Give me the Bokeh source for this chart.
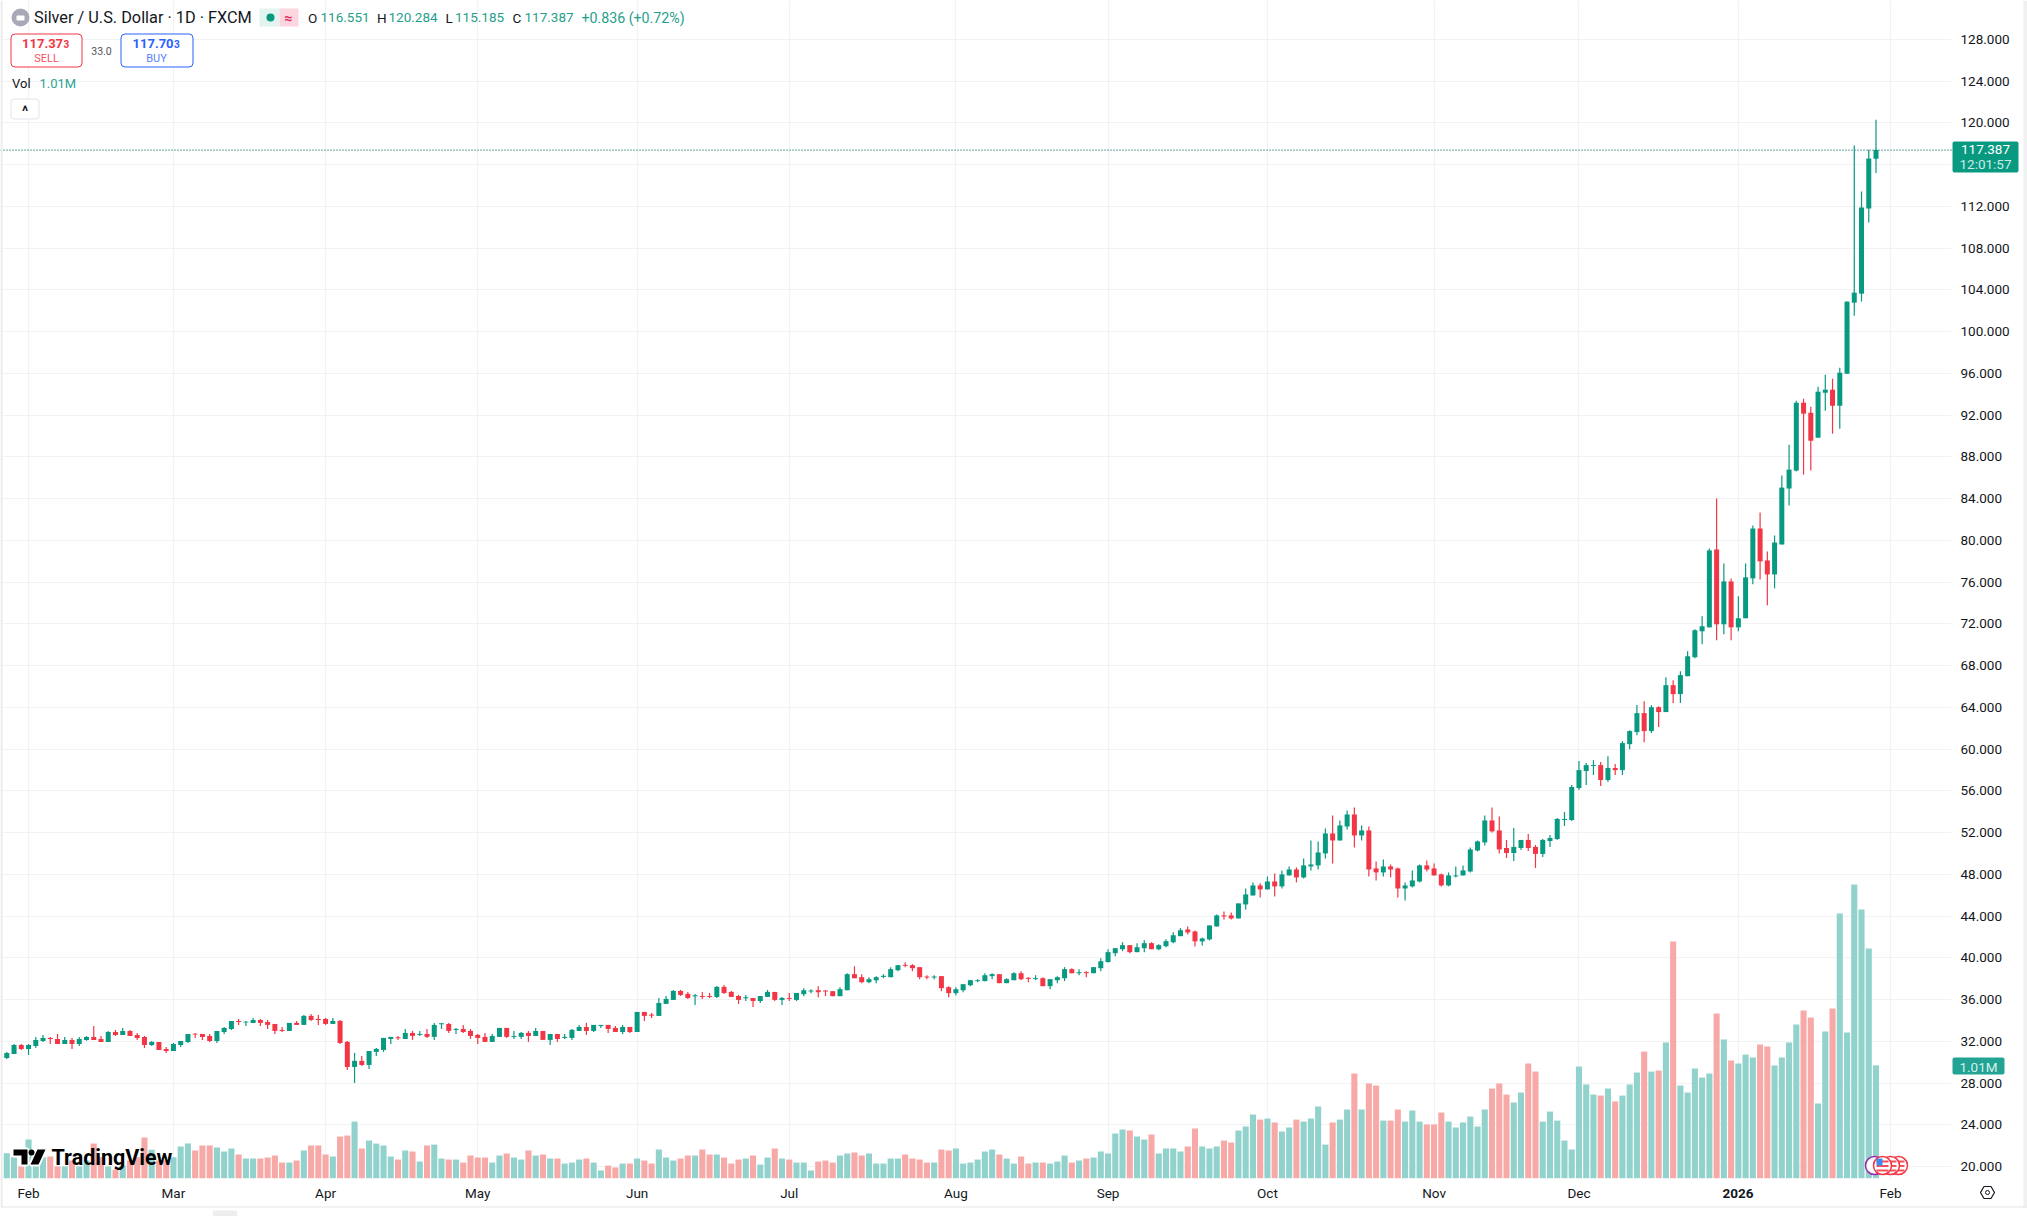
# Silver / U.S. Dollar daily candles, FXCM
from bokeh.embed import file_html
from bokeh.models import (BoxAnnotation, ColumnDataSource, FixedTicker, Grid, Label, LinearAxis,
                          PolyAnnotation, Range1d)
from bokeh.plotting import figure
from bokeh.resources import INLINE

## ----- DATA ----- ##
opens = [
    30.40, 30.79, 31.65, 31.27, 31.55, 32.03, 32.32, 32.22, 31.74, 32.13, 31.74, 32.13, 32.42, 32.22, 31.94, 32.89,
    32.61, 32.99, 32.61, 32.42, 31.65, 31.94, 31.27, 31.07, 31.65, 31.94, 32.73, 32.70, 32.51, 32.03, 32.89, 33.18,
    33.95, 33.79, 33.76, 34.04, 33.85, 33.66, 33.09, 32.99, 33.76, 33.57, 34.43, 34.14, 34.14, 33.66, 33.95, 31.94,
    29.54, 30.12, 29.73, 30.98, 31.17, 32.22, 32.38, 32.22, 32.80, 32.61, 32.70, 32.42, 33.63, 33.66, 33.09, 33.18,
    32.99, 32.61, 32.42, 31.94, 32.42, 33.28, 32.42, 32.42, 32.80, 32.51, 32.99, 32.13, 32.70, 32.32, 32.32, 32.99,
    33.37, 32.99, 33.47, 33.57, 33.28, 32.89, 33.37, 32.89, 34.81, 34.56, 34.43, 35.58, 35.96, 36.82, 36.54, 36.31,
    36.34, 36.34, 36.25, 37.21, 36.73, 36.34, 36.12, 36.15, 35.86, 36.25, 36.73, 35.96, 36.15, 35.96, 36.51, 36.77,
    36.89, 36.86, 36.80, 36.32, 36.89, 38.43, 38.14, 37.66, 37.85, 38.17, 38.14, 38.81, 39.32, 39.29, 39.10, 38.20,
    38.11, 38.24, 37.18, 36.61, 36.89, 37.37, 37.76, 37.76, 38.24, 38.43, 37.57, 37.85, 38.52, 38.08, 37.95, 38.04,
    37.28, 37.85, 38.04, 38.91, 38.52, 38.62, 38.52, 39.00, 39.58, 40.44, 40.82, 41.21, 40.54, 40.92, 41.40, 40.82,
    41.11, 41.49, 42.07, 42.71, 42.52, 41.57, 41.76, 43.00, 44.06, 44.06, 43.77, 45.11, 45.97, 46.93, 46.55, 47.31,
    46.84, 47.89, 48.46, 47.70, 48.75, 48.85, 50.00, 51.91, 51.24, 52.58, 53.73, 51.72, 52.20, 48.56, 48.18, 48.75,
    48.56, 46.64, 46.84, 47.31, 48.85, 48.56, 47.99, 46.93, 47.80, 47.89, 48.27, 50.28, 51.05, 53.16, 52.20, 50.52,
    50.04, 50.52, 51.29, 50.62, 49.95, 51.19, 51.38, 53.20, 53.20, 56.26, 57.89, 58.37, 58.46, 57.03, 58.18, 57.98,
    60.47, 61.62, 63.44, 61.72, 64.01, 63.54, 66.12, 65.26, 66.98, 68.80, 71.28, 71.66, 79.12, 71.95, 76.06, 71.66,
    72.53, 76.35, 81.13, 78.07, 76.73, 79.60, 84.96, 86.68, 93.18, 92.22, 89.83, 94.14, 94.43, 92.89, 95.96, 102.77,
    103.63, 111.78, 116.551,
]
highs = [
    30.98, 31.74, 31.74, 31.74, 32.42, 32.61, 32.42, 32.70, 32.42, 32.32, 32.42, 32.51, 33.47, 32.51, 32.99, 33.09,
    33.28, 33.09, 32.80, 32.51, 32.03, 31.94, 31.46, 31.84, 32.03, 32.70, 32.80, 32.70, 32.70, 32.99, 33.37, 33.95,
    34.14, 33.95, 34.24, 34.14, 34.04, 33.66, 33.37, 33.76, 33.95, 34.52, 34.62, 34.52, 34.24, 34.24, 34.04, 32.03,
    30.88, 30.59, 31.07, 31.36, 32.32, 32.42, 32.51, 33.18, 32.99, 32.99, 33.18, 33.76, 33.76, 33.76, 33.28, 33.57,
    33.18, 32.70, 32.80, 32.70, 33.28, 33.28, 32.99, 32.89, 32.99, 33.28, 32.99, 32.70, 32.70, 32.70, 33.18, 33.57,
    33.76, 33.57, 33.57, 33.57, 33.47, 33.57, 33.37, 34.81, 34.81, 34.71, 36.15, 36.34, 36.92, 36.92, 36.73, 36.54,
    36.73, 36.63, 37.30, 37.40, 36.82, 36.44, 36.44, 36.15, 36.34, 36.92, 36.73, 36.25, 36.63, 36.63, 37.09, 36.99,
    37.28, 36.89, 36.80, 37.18, 38.52, 39.19, 38.43, 38.14, 38.24, 38.43, 39.10, 39.29, 39.58, 39.39, 39.10, 38.33,
    38.33, 38.24, 37.28, 37.18, 37.47, 37.85, 37.95, 38.52, 38.52, 38.43, 38.04, 38.62, 38.71, 38.14, 38.33, 38.14,
    37.95, 38.24, 39.10, 39.00, 38.91, 38.71, 39.10, 39.96, 40.82, 40.92, 41.49, 41.21, 41.40, 41.69, 41.49, 41.30,
    41.78, 42.45, 42.84, 43.00, 42.62, 41.95, 43.10, 44.15, 44.44, 44.34, 45.21, 46.64, 47.22, 47.13, 47.79, 48.08,
    48.37, 48.75, 48.66, 49.52, 51.24, 51.15, 52.39, 53.64, 53.16, 54.12, 54.40, 52.68, 52.58, 49.23, 49.42, 48.94,
    48.66, 47.22, 48.37, 48.94, 49.33, 49.04, 48.08, 48.18, 48.75, 48.85, 50.57, 51.24, 53.64, 54.40, 53.54, 51.29,
    52.43, 51.29, 51.86, 50.81, 51.38, 51.76, 53.39, 53.97, 56.55, 58.85, 58.65, 58.94, 58.75, 59.32, 58.56, 60.76,
    61.81, 64.21, 64.59, 64.21, 64.11, 66.88, 66.60, 67.46, 69.37, 71.47, 72.72, 79.22, 84.00, 77.78, 76.35, 74.63,
    77.78, 81.42, 82.66, 78.93, 80.46, 86.20, 89.16, 93.37, 93.57, 92.79, 94.72, 95.87, 95.48, 96.54, 102.87, 117.82,
    113.41, 117.41, 120.284,
]
lows = [
    30.31, 30.79, 31.17, 30.69, 31.36, 31.94, 31.74, 31.74, 31.74, 31.27, 31.55, 32.05, 32.13, 31.94, 31.94, 32.51,
    32.61, 32.51, 32.13, 31.36, 31.55, 31.17, 30.88, 31.07, 31.46, 31.84, 32.32, 32.13, 31.94, 31.84, 32.70, 33.09,
    33.57, 33.47, 33.76, 33.47, 33.18, 32.70, 32.89, 32.99, 33.57, 33.57, 33.95, 33.57, 33.57, 33.66, 31.74, 29.25,
    28.01, 29.64, 29.35, 30.59, 30.98, 31.74, 32.13, 32.22, 32.13, 32.51, 32.32, 32.13, 33.18, 32.80, 32.70, 32.80,
    32.22, 31.74, 31.94, 31.94, 32.42, 32.32, 32.22, 32.22, 31.94, 32.51, 32.13, 31.65, 31.94, 32.22, 32.13, 32.99,
    32.61, 32.89, 33.28, 32.80, 32.89, 32.70, 32.80, 32.89, 33.95, 34.24, 34.43, 35.58, 35.96, 36.34, 36.06, 35.48,
    36.06, 36.15, 36.15, 36.54, 36.25, 35.58, 35.86, 35.29, 35.67, 36.25, 35.86, 35.48, 35.86, 35.86, 36.32, 36.61,
    36.22, 36.32, 36.32, 36.32, 36.89, 38.04, 37.57, 37.57, 37.57, 38.04, 38.14, 38.71, 39.10, 38.71, 37.95, 37.95,
    37.95, 36.80, 36.22, 36.42, 36.70, 37.28, 37.66, 37.76, 37.95, 37.57, 37.57, 37.85, 37.85, 37.66, 37.85, 37.28,
    36.99, 37.57, 37.76, 38.52, 38.33, 38.14, 38.52, 38.71, 39.58, 40.15, 40.63, 40.44, 40.54, 40.54, 40.82, 40.73,
    41.01, 41.40, 42.07, 42.24, 41.09, 41.18, 41.66, 43.00, 43.67, 43.67, 43.77, 44.63, 45.97, 45.78, 46.55, 45.88,
    46.64, 47.89, 47.22, 47.60, 48.37, 48.46, 49.52, 49.04, 51.24, 52.30, 50.57, 51.24, 47.79, 47.41, 47.79, 47.70,
    45.78, 45.49, 46.74, 47.22, 48.27, 47.89, 46.84, 46.84, 47.70, 47.89, 48.18, 50.19, 50.76, 52.01, 50.00, 49.56,
    49.28, 50.33, 50.23, 48.61, 49.66, 50.62, 51.29, 52.63, 53.10, 56.07, 56.55, 57.51, 56.45, 56.84, 57.51, 57.51,
    59.99, 61.33, 60.66, 61.53, 62.10, 63.54, 64.40, 64.40, 66.98, 68.70, 70.04, 71.66, 70.42, 71.00, 70.42, 71.28,
    72.53, 75.78, 76.25, 73.77, 75.39, 79.60, 83.33, 86.58, 86.29, 86.68, 89.83, 92.42, 90.21, 90.69, 95.96, 101.52,
    102.87, 110.44, 115.185,
]
closes = [
    30.88, 31.65, 31.27, 31.65, 32.13, 32.32, 32.22, 31.74, 32.13, 31.74, 32.22, 32.42, 32.13, 31.94, 32.89, 32.61,
    32.99, 32.51, 32.32, 31.65, 31.94, 31.17, 31.07, 31.74, 32.03, 32.70, 32.64, 32.42, 32.03, 32.99, 33.28, 33.95,
    33.85, 33.88, 34.04, 33.76, 33.57, 32.99, 32.99, 33.76, 33.57, 34.43, 34.04, 34.04, 33.66, 33.95, 31.84, 29.54,
    30.12, 29.73, 31.07, 31.27, 32.32, 32.42, 32.29, 32.80, 32.51, 32.70, 32.42, 33.57, 33.72, 32.99, 33.18, 32.89,
    32.51, 32.32, 31.94, 32.51, 33.28, 32.42, 32.51, 32.80, 32.51, 32.99, 32.13, 32.70, 32.22, 32.42, 33.09, 33.37,
    32.99, 33.57, 33.57, 33.18, 32.89, 33.37, 32.89, 34.81, 34.43, 34.46, 35.67, 36.06, 36.82, 36.44, 36.15, 36.41,
    36.25, 36.25, 37.21, 36.63, 36.25, 35.96, 36.22, 35.86, 36.34, 36.73, 35.96, 36.15, 36.06, 36.63, 36.89, 36.86,
    36.70, 36.77, 36.32, 36.99, 38.43, 38.04, 37.66, 37.95, 38.14, 38.27, 38.91, 39.29, 39.23, 39.00, 38.14, 38.11,
    38.20, 37.09, 36.61, 36.99, 37.47, 37.85, 37.85, 38.33, 38.43, 37.57, 37.95, 38.52, 37.95, 37.98, 38.04, 37.28,
    37.95, 38.14, 38.91, 38.52, 38.62, 38.52, 39.10, 39.67, 40.54, 40.92, 41.21, 40.54, 41.01, 41.40, 40.82, 41.21,
    41.59, 42.16, 42.64, 42.43, 41.57, 41.85, 43.10, 44.06, 43.96, 43.77, 45.21, 46.07, 46.93, 46.55, 47.31, 46.84,
    47.99, 48.46, 47.70, 48.85, 48.94, 50.09, 51.91, 51.24, 52.68, 53.73, 51.72, 52.20, 48.46, 48.18, 48.75, 48.46,
    46.64, 46.93, 47.41, 48.85, 48.46, 47.89, 46.93, 47.89, 47.89, 48.37, 50.38, 51.15, 53.16, 52.11, 50.38, 50.04,
    50.62, 51.29, 50.52, 49.95, 51.29, 51.48, 53.30, 53.30, 56.36, 57.98, 58.46, 58.46, 57.03, 58.18, 57.98, 60.57,
    61.72, 63.44, 61.72, 64.01, 63.54, 66.12, 65.26, 67.08, 68.89, 71.38, 71.76, 79.03, 71.95, 76.06, 71.66, 72.53,
    76.45, 81.13, 77.98, 76.73, 79.79, 85.05, 86.77, 93.18, 92.13, 89.54, 94.24, 94.43, 92.89, 96.06, 102.87, 103.73,
    111.88, 116.58, 117.387,
]
# FXCM volume, millions
volumes = [
    .224, .188, .104, .346, .218, .188, .194, .104, .104, .158, .104, .158, .310, .188, .104, .075,
    .113, .158, .188, .364, .254, .158, .158, .188, .284, .310, .248, .293, .293, .275, .239, .266,
    .212, .176, .176, .176, .185, .203, .140, .140, .158, .248, .293, .293, .212, .194, .373, .382,
    .507, .266, .337, .310, .293, .194, .167, .248, .239, .149, .293, .301, .176, .167, .167, .140,
    .203, .185, .185, .140, .203, .221, .185, .167, .248, .203, .212, .176, .176, .131, .140, .167,
    .176, .140, .069, .113, .096, .131, .131, .176, .158, .131, .257, .185, .158, .176, .203, .203,
    .257, .212, .212, .185, .131, .167, .176, .203, .122, .185, .266, .176, .167, .140, .140, .069,
    .149, .158, .140, .203, .221, .230, .203, .221, .131, .131, .176, .176, .212, .176, .167, .140,
    .140, .257, .248, .266, .131, .140, .167, .239, .257, .212, .176, .131, .194, .131, .140, .140,
    .131, .149, .203, .140, .158, .176, .185, .239, .221, .400, .436, .427, .373, .346, .391, .221,
    .266, .266, .239, .284, .445, .284, .266, .284, .337, .319, .427, .463, .570, .525, .534, .499,
    .418, .454, .525, .507, .534, .642, .301, .499, .525, .615, .937, .615, .848, .830, .516, .516,
    .615, .507, .606, .507, .481, .481, .588, .507, .454, .499, .552, .463, .615, .803, .848, .749,
    .678, .767, 1.027, .955, .507, .597, .516, .337, .257, 1.000, .839, .749, .740, .803, .687, .740,
    .839, .946, 1.134, .955, .964, 1.215, 2.119, .830, .767, .982, .901, .937, 1.475, 1.242, 1.054, 1.027,
    1.107, 1.081, 1.197, 1.179, 1.009, 1.081, 1.215, 1.376, 1.501, 1.439, .669, 1.313, 1.519, 2.370, 1.304, 2.630,
    2.406, 2.057, 1.010,
]
price_ticks = [20, 24, 28, 32, 36, 40, 44, 48, 52, 56, 60, 64, 68, 72, 76, 80, 84, 88, 92, 96, 100, 104, 108, 112,
               116, 120, 124, 128]
month_bars = [3, 23, 44, 65, 87, 108, 131, 152, 174, 197, 217, 239, 260]
month_names = ["Feb", "Mar", "Apr", "May", "Jun", "Jul", "Aug", "Sep", "Oct", "Nov", "Dec", "", "Feb"]
last_price = 117.387

## ----- CONSTANTS ----- ##
W, H = 2027, 1216
X_LEFT, X_RIGHT = -0.87, 278.91  # the frame spans the whole canvas, bars run on the same scale
PRICE_LOW, PRICE_HIGH = 15.21, 131.72
X_PANE, Y_PANE = 268.42, 18.88  # right edge and foot of the price pane
UP, DOWN = "#089981", "#F23645"
UP_VOL, DOWN_VOL = "#92D2CC", "#F7A9A7"
UP_TEXT = "#1fa08b"
INK = "#131722"
FONT = "Roboto"

## ----- CHART ----- ##
p = figure(width=W, height=H, output_backend="svg", toolbar_location=None, tools="",
           x_axis_type=None, y_axis_type=None,
           x_range=Range1d(X_LEFT, X_RIGHT), y_range=Range1d(PRICE_LOW, PRICE_HIGH),
           min_border_left=0, min_border_top=0, min_border_right=0, min_border_bottom=0,
           background_fill_color="white", border_fill_color="white", outline_line_color=None)
p.extra_y_ranges = {"vol": Range1d(-0.343, 10.546)}

price_axis = LinearAxis(ticker=FixedTicker(ticks=price_ticks), fixed_location=X_PANE,
                        major_label_overrides={t: f"{t}.000" for t in price_ticks})
time_axis = LinearAxis(ticker=FixedTicker(ticks=month_bars), fixed_location=Y_PANE,
                       major_label_overrides=dict(zip(month_bars, month_names)))

# grid first, so the white masks can stop it at the edge of the pane
for dim, ax in ((0, time_axis), (1, price_axis)):
    p.add_layout(Grid(dimension=dim, axis=ax, grid_line_color="#f1f2f4", grid_line_width=1.2))


def canvas_box(left, right, top, bottom, fill=None, line=None, radius=0, line_width=1, level="annotation"):
    p.add_layout(BoxAnnotation(left=left, right=right, top=top, bottom=bottom, left_units="canvas",
                               right_units="canvas", top_units="canvas", bottom_units="canvas",
                               fill_color=fill, fill_alpha=1 if fill else 0, line_color=line, line_alpha=1,
                               line_width=line_width, border_radius=radius, level=level))


canvas_box(1951, 2027, 0, 1216, fill="white", level="underlay")
canvas_box(0, 2027, 1178, 1216, fill="white", level="underlay")

bars = list(range(len(opens)))
rising = [c >= o for o, c in zip(opens, closes)]
source = ColumnDataSource(data=dict(
    x=bars, high=highs, low=lows, volume=volumes,
    top=[max(o, c) for o, c in zip(opens, closes)],
    bottom=[min(o, c) for o, c in zip(opens, closes)],
    colour=[UP if r else DOWN for r in rising],
    vol_colour=[UP_VOL if r else DOWN_VOL for r in rising],
))

p.vbar(x="x", width=0.84, top="volume", bottom=0, fill_color="vol_colour", line_color=None, y_range_name="vol",
       source=source)
p.segment(x0="x", y0="high", x1="x", y1="low", line_color="colour", line_width=1.2, source=source)
p.vbar(x="x", width=0.69, top="top", bottom="bottom", fill_color="colour", line_color=None, source=source)
p.segment(x0=[X_LEFT], y0=[last_price], x1=[X_PANE], y1=[last_price], line_color="#067a67", line_width=1.3,
          line_dash="1 2")

# fixed_location keeps the axes from taking room away from the frame
for ax, side in ((price_axis, "right"), (time_axis, "below")):
    ax.axis_line_color = None
    ax.major_tick_line_color = None
    ax.minor_tick_line_color = None
    ax.major_label_text_font = FONT
    ax.major_label_text_font_size = "13.5px"
    ax.major_label_text_color = INK
    p.add_layout(ax, side)
price_axis.major_label_standoff = 3
time_axis.major_label_standoff = 1


def text(x, y, s, size=13, colour=INK, align="left", weight="normal", **kw):
    p.add_layout(Label(x=x, y=y, x_units="canvas", y_units="canvas", text=s, text_font=FONT,
                       text_font_size=f"{size}px", text_color=colour, text_align=align,
                       text_baseline="middle", text_font_style=weight, **kw))


def poly(xs, ys, fill=None, line=None, line_width=1):
    p.add_layout(PolyAnnotation(xs=xs, ys=ys, xs_units="canvas", ys_units="canvas", line_alpha=1,
                                fill_color=fill, fill_alpha=1 if fill else 0, line_color=line, line_width=line_width))


# page edges
canvas_box(0, 2, 0, 1207, fill="#ebebeb")
canvas_box(2023, 2027, 0, 1207, fill="#f0f0f0")
canvas_box(0, 2027, 1206, 1207, fill="#e6e6e6")
canvas_box(212, 237, 1210, 1216, fill="#eeeeee", radius=5)

# header
canvas_box(11, 29, 8, 26, fill="#a9a8b6", radius=9)
canvas_box(16, 24, 15, 20, fill="white", radius=1)
text(33.5, 17, "Silver / U.S. Dollar · 1D · FXCM", size=16.3)
canvas_box(259, 279, 8, 26, fill="#e3f3f0")
canvas_box(279, 298, 8, 26, fill="#fbd6df")
canvas_box(266, 274, 13, 21, fill=UP, radius=4)
text(288, 17, "≈", size=14, colour="#e0245e", align="center", weight="bold")
text(307.5, 17, "O", size=13.5)
text(320, 17, "116.551", size=13.5, colour=UP_TEXT)
text(376.5, 17, "H", size=13.5)
text(388, 17, "120.284", size=13.5, colour=UP_TEXT)
text(445, 17, "L", size=13.5)
text(454.5, 17, "115.185", size=13.5, colour=UP_TEXT)
text(512, 17, "C", size=13.5)
text(524, 17, "117.387", size=13.5, colour=UP_TEXT)
text(581, 17, "+0.836 (+0.72%)", size=14.2, colour=UP_TEXT)

# sell / buy
canvas_box(10.5, 81.5, 33.5, 66.5, fill="white", line=DOWN, radius=4)
text(21.5, 43, "117.37", size=13, colour=DOWN, weight="bold")
text(63, 43.5, "3", size=10, colour=DOWN, weight="bold")
text(46, 57.5, "SELL", size=11, colour="#f7525f", align="center")
text(101, 50, "33.0", size=10.5, colour="#50535e", align="center")
canvas_box(120.5, 192.5, 33.5, 66.5, fill="white", line="#2962ff", radius=4)
text(132, 43, "117.70", size=13, colour="#2962ff", weight="bold")
text(173.5, 43.5, "3", size=10, colour="#2962ff", weight="bold")
text(156, 57.5, "BUY", size=11, colour="#5b7fff", align="center")

# volume legend
text(11.5, 83, "Vol", size=13)
text(39, 83, "1.01M", size=13, colour="#2ba593")
canvas_box(10.5, 38.5, 98.5, 118.5, fill="white", line="#e0e3eb", radius=3)
text(24.5, 110, "^", size=14, weight="bold", align="center")

# price tags
canvas_box(1952, 2018, 141, 172, fill=UP, radius=2)
text(1985, 149, "117.387", size=13.5, colour="white", align="center")
text(1985, 163, "12:01:57", size=13.5, colour="#cdebe6", align="center")
canvas_box(1952, 2004, 1057, 1074, fill="#22a394", radius=2)
text(1978, 1066, "1.01M", size=13.5, colour="#d5f0ec", align="center")

# 2026 is the one bold time label
text(1737.5, 1193, "2026", size=13.5, align="center", weight="bold")

# settings gear
poly([1980, 1983.5, 1990.5, 1994, 1990.5, 1983.5], [1192, 1186, 1186, 1192, 1198, 1198], line=INK, line_width=1.2)
canvas_box(1985, 1989, 1190, 1194, line=INK, radius=2)

# logo
for lw, colour in ((4, "white"), (0, "black")):
    line = colour if lw else None
    poly([13, 27, 27, 21, 21, 13], [1149, 1149, 1164, 1164, 1155, 1155], fill=colour, line=line, line_width=lw or 1)
    poly([37, 45, 38, 30], [1149, 1149, 1164, 1164], fill=colour, line=line, line_width=lw or 1)
canvas_box(28, 34, 1149, 1155, fill="black", radius=3)
text(51, 1157, "TradingView", size=21.5, colour="black", weight="bold")

# event flags
canvas_box(1865, 1883, 1156, 1174, fill="white", line="#9c27b0", radius=9, line_width=1.5)
for cx in (1898, 1890, 1882):
    canvas_box(cx - 9, cx + 9, 1156, 1174, fill="white", line=DOWN, radius=9, line_width=1.5)
    for sy in (1160, 1164.5, 1169):
        canvas_box(cx - 6, cx + 6, sy, sy + 2, fill="#f0505c")
canvas_box(1876, 1882, 1158, 1165, fill="#3d8bf2", radius=1)

open("out.html", "w").write(file_html(p, INLINE))
